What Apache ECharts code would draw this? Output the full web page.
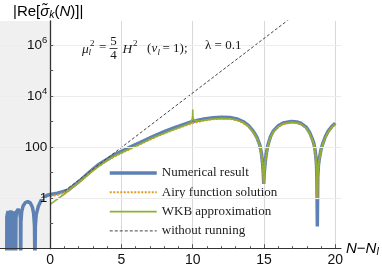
<!DOCTYPE html>
<html><head><meta charset="utf-8">
<script src="https://cdn.jsdelivr.net/npm/echarts@6/dist/echarts.min.js"></script>
<style>html,body{margin:0;padding:0;background:#fff}#c{width:382px;height:268px}</style>
</head><body><div id="c"></div>
<script>
// ---- data (x = N - N_l, y = log10 |Re sigma_k(N)|) ----
const xLabelTicks = [0, 5, 10, 15, 20];
const xMinorTicks = [1, 2, 3, 4, 6, 7, 8, 9, 11, 12, 13, 14, 16, 17, 18, 19];
const yTickExponents = [-1, 0, 1, 2, 3, 4, 5, 6];
const yLabelExponents = [0, 2, 4, 6];
const seriesNames = ['Numerical result', 'Airy function solution', 'WKB approximation', 'without running'];

const numerical = [
  [-3.05,-3],[-3.04,-0.75],[-2.96,-0.52],[-2.88,-0.75],[-2.87,-3],
  [-2.86,-0.75],[-2.765,-0.5],[-2.67,-0.75],[-2.66,-3],
  [-2.65,-0.75],[-2.6,-0.55],[-2.54,-0.48],[-2.48,-0.55],[-2.43,-0.75],[-2.42,-3],
  [-2.40,-0.8],[-2.36,-0.55],[-2.245,-0.45],[-2.13,-0.55],[-2.09,-0.8],[-2.07,-3],
  [-2.05,-0.95],[-2.0,-0.55],[-1.9,-0.32],[-1.75,-0.19],[-1.57,-0.15],[-1.4,-0.2],[-1.25,-0.36],[-1.16,-0.62],[-1.1,-1.1],[-1.07,-3],
  [-1.04,-1.1],[-0.98,-0.66],[-0.83,-0.33],[-0.6,-0.06],[-0.25,0.09],[0,0.13],[0.5,0.18],[1.25,0.3],[1.7,0.5],[2.18,0.72],
  [2.8,1.03],[3.35,1.29],[4.0,1.52],[4.52,1.7],[5.45,1.95],[6.3,2.17],[7.23,2.42],[8.0,2.6],[8.63,2.74],[9.33,2.88],
  [10.03,3.01],[10.8,3.1],[11.43,3.15],[12.0,3.17],[12.6,3.16],[13.1,3.1],[13.53,3.0],[13.9,2.85],[14.23,2.63],[14.5,2.38],
  [14.7,2.08],[14.82,1.75],[14.9,1.35],[14.95,0.95],[14.98,0.55],[15.01,0.95],[15.07,1.32],[15.15,1.72],[15.28,2.09],[15.45,2.4],
  [15.63,2.61],[16.0,2.83],[16.34,2.94],[16.92,3.0],[17.3,2.98],[17.62,2.92],[17.95,2.78],[18.2,2.57],[18.4,2.3],[18.5,2.12],
  [18.58,1.88],[18.64,1.6],[18.68,1.3],[18.71,0.8],[18.74,-1.13],[18.77,0.8],[18.82,1.3],[18.9,1.6],[19.0,1.9],[19.14,2.16],
  [19.3,2.4],[19.49,2.61],[19.75,2.8],[20.0,2.93]
];
const airy = [
  [0,0.06],[0.5,0.11],[1.0,0.21],[1.5,0.38],[2.0,0.6],[2.8,0.98],[3.35,1.22],[4.0,1.46],[4.52,1.63],[5.45,1.88],
  [6.3,2.1],[7.23,2.35],[8.0,2.53],[8.63,2.67],[9.33,2.81],[10.03,2.94],[10.8,3.04],[11.43,3.09],[12.0,3.11],[12.6,3.1],
  [13.1,3.05],[13.53,2.95],[13.9,2.81],[14.23,2.59],[14.5,2.34],[14.7,2.04],[14.82,1.72],[14.9,1.32],[14.95,0.93],[14.98,0.55],
  [15.01,0.93],[15.07,1.3],[15.15,1.69],[15.28,2.05],[15.45,2.36],[15.63,2.57],[16.0,2.79],[16.34,2.9],[16.92,2.96],[17.3,2.94],
  [17.62,2.88],[17.95,2.74],[18.2,2.53],[18.4,2.26],[18.5,2.08],[18.58,1.85],[18.64,1.57],[18.68,1.27],[18.71,0.78],[18.74,-0.07],
  [18.77,0.78],[18.82,1.27],[18.9,1.57],[19.0,1.86],[19.14,2.12],[19.3,2.36],[19.49,2.57],[19.75,2.76],[20.0,2.89]
];
const wkb = [
  [0,-0.26],[0.5,-0.05],[1.0,0.15],[1.5,0.37],[2.0,0.59],[2.8,0.98],[3.35,1.22],[4.0,1.46],[4.52,1.64],[5.45,1.89],
  [6.3,2.11],[7.23,2.36],[8.0,2.54],[8.63,2.68],[9.33,2.82],[9.7,2.9],[9.85,2.95],[9.93,3.02],[9.97,3.12],[9.99,3.25],
  [10.0,3.47],[10.01,3.25],[10.03,3.14],[10.08,3.06],[10.2,3.01],[10.5,3.02],[10.8,3.05],[11.43,3.1],[12.0,3.12],[12.6,3.11],
  [13.1,3.06],[13.53,2.96],[13.9,2.82],[14.23,2.6],[14.5,2.35],[14.7,2.05],[14.82,1.73],[14.9,1.33],[14.95,0.94],[14.98,0.55],
  [15.01,0.94],[15.07,1.31],[15.15,1.7],[15.28,2.06],[15.45,2.37],[15.63,2.58],[16.0,2.8],[16.34,2.91],[16.92,2.97],[17.3,2.95],
  [17.62,2.89],[17.95,2.75],[18.2,2.54],[18.4,2.27],[18.5,2.09],[18.58,1.86],[18.64,1.58],[18.68,1.28],[18.71,0.79],[18.74,-0.07],
  [18.77,0.79],[18.82,1.28],[18.9,1.58],[19.0,1.87],[19.14,2.13],[19.3,2.37],[19.49,2.58],[19.75,2.77],[20.0,2.9]
];
const withoutRunning = [[1.0,0.27],[17.0,7.12]];

// ---- chart ----
const X_MIN = -3.52, X_MAX = 20.4, Y_MIN = -2, Y_MAX = 6.95;
const GRID_RIGHT = 41, CHART_W = 382;
const Y_AXIS_OFFSET = -(0 - X_MIN) / (X_MAX - X_MIN) * (CHART_W - GRID_RIGHT); // place y axis at N = 0
const SANS = '"Liberation Sans", Arial, sans-serif';
const SERIF = '"Liberation Serif", "Times New Roman", serif';
const chart = echarts.init(document.getElementById('c'), null, {renderer: 'canvas'});

const supLabel = {
  0: '{n|1}', 2: '{n|100}', 4: '{n|10}{s|4}', 6: '{n|10}{s|6}'
};

function serifText(text, x, y, opts) {
  return {
    type: 'text', silent: true, z: 100,
    style: Object.assign({text: text, x: x, y: y, fill: '#1a1a1a',
      font: (opts && opts.font) || ('13px ' + SERIF), verticalAlign: 'middle', align: 'left'}, (opts && opts.style) || {})
  };
}

const option = {
  animation: false,
  backgroundColor: '#fff',
  grid: {left: 0, right: GRID_RIGHT, top: 21, bottom: 19.3, containLabel: false, outerBoundsMode: 'none'},
  xAxis: [{
    type: 'value', min: X_MIN, max: X_MAX, z: 10,
    axisLine: {show: true, onZero: false, lineStyle: {color: '#333', width: 1.2}},
    axisTick: {show: true, inside: true, length: 2.5, customValues: xMinorTicks, lineStyle: {color: '#555'}},
    axisLabel: {show: true, customValues: xLabelTicks, margin: 4, color: '#111', fontSize: 14, fontFamily: SANS},
    splitLine: {show: false}
  }, {
    type: 'value', min: X_MIN, max: X_MAX, position: 'bottom', z: 1,
    axisLine: {show: false, onZero: false},
    axisTick: {show: true, inside: true, length: 4.5, customValues: [5, 10, 15, 20], lineStyle: {color: '#555'}},
    axisLabel: {show: false},
    splitLine: {show: true, lineStyle: {color: '#d8d8d8', width: 1}}
  }],
  yAxis: {
    type: 'value', min: Y_MIN, max: Y_MAX, z: 10, position: 'left', offset: Y_AXIS_OFFSET,
    axisLine: {show: true, onZero: false, lineStyle: {color: '#333', width: 1.3}},
    axisTick: {show: true, inside: true, length: 3, customValues: yTickExponents, lineStyle: {color: '#555'}},
    axisLabel: {
      show: true, customValues: yLabelExponents, margin: 3, color: '#111',
      formatter: v => supLabel[v] || '',
      rich: {
        n: {fontSize: 13.5, fontFamily: SANS, color: '#111'},
        s: {fontSize: 9.5, fontFamily: SANS, color: '#111', padding: [0, 0, 9, 0]}
      }
    },
    splitLine: {show: true, lineStyle: {color: ['transparent', '#ececec'], width: 1}}
  },
  legend: {
    orient: 'vertical', left: 103, top: 161, padding: 5,
    itemWidth: 47, itemHeight: 14, itemGap: 5.3,
    data: seriesNames,
    textStyle: {fontFamily: SERIF, fontSize: 13, color: '#222', lineHeight: 14},
    lineStyle: {width: 'inherit'},
    itemStyle: {opacity: 0}
  },
  series: [{
    name: seriesNames[0], type: 'line', data: numerical, symbol: 'none', showSymbol: false,
    lineStyle: {color: '#5E81B5', width: 3.5}, itemStyle: {color: '#5E81B5'}, z: 2, clip: true,
    markArea: {silent: true, itemStyle: {color: '#f0f0f0'},
      data: [[{coord: [X_MIN, Y_MIN]}, {coord: [0, Y_MAX]}]]}
  }, {
    name: seriesNames[1], type: 'line', data: airy, symbol: 'none', showSymbol: false,
    lineStyle: {color: '#E19C24', width: 2, type: [2, 1.5]}, itemStyle: {color: '#E19C24'}, z: 3, clip: true
  }, {
    name: seriesNames[2], type: 'line', data: wkb, symbol: 'none', showSymbol: false,
    lineStyle: {color: '#8FB032', width: 1.6}, itemStyle: {color: '#8FB032'}, z: 4, clip: true
  }, {
    name: seriesNames[3], type: 'line', data: withoutRunning, symbol: 'none', showSymbol: false,
    lineStyle: {color: '#444', width: 1, type: [3, 2]}, itemStyle: {color: '#444'}, z: 5, clip: true
  }],
  graphic: [
    {type: 'text', silent: true, style: {
      x: 13, y: 12, verticalAlign: 'middle',
      text: '{a||Re[}{i|σ̃}{k|k}{a|(}{i|N}{a|)]|}',
      rich: {
        a: {fontSize: 15, fontFamily: SANS, color: '#111'},
        i: {fontSize: 15, fontFamily: SANS, fontStyle: 'italic', color: '#111'},
        k: {fontSize: 10.5, fontFamily: SANS, fontStyle: 'italic', color: '#111', padding: [7, 0, 0, 0]}
      }}},
    {type: 'text', silent: true, style: {
      x: 346, y: 249, verticalAlign: 'middle',
      text: '{i|N}{a|−}{i|N}{k|l}',
      rich: {
        a: {fontSize: 15, fontFamily: SANS, color: '#111'},
        i: {fontSize: 15, fontFamily: SANS, fontStyle: 'italic', color: '#111'},
        k: {fontSize: 10.5, fontFamily: SANS, fontStyle: 'italic', color: '#111', padding: [7, 0, 0, 0]}
      }}},
    serifText('μ', 82, 49, {font: 'italic 13.5px ' + SERIF}),
    serifText('l', 88.5, 53, {font: 'italic 9px ' + SERIF}),
    serifText('2', 90, 43.5, {font: '9px ' + SERIF}),
    serifText('=', 99, 48),
    serifText('5', 113.5, 42, {style: {align: 'center'}}),
    {type: 'line', silent: true, shape: {x1: 109.5, y1: 48.5, x2: 117.5, y2: 48.5}, style: {stroke: '#1a1a1a', lineWidth: 0.8}},
    serifText('4', 113.5, 55.5, {style: {align: 'center'}}),
    serifText('H', 122.5, 49, {font: 'italic 13.5px ' + SERIF}),
    serifText('2', 133, 43.5, {font: '9px ' + SERIF}),
    serifText('(', 147, 49),
    serifText('ν', 151.5, 49, {font: 'italic 13px ' + SERIF}),
    serifText('l', 157.5, 53, {font: 'italic 9px ' + SERIF}),
    serifText('= 1);', 162.5, 49),
    serifText('λ = 0.1', 205, 46)
  ]
};
chart.setOption(option);
</script>
</body></html>
